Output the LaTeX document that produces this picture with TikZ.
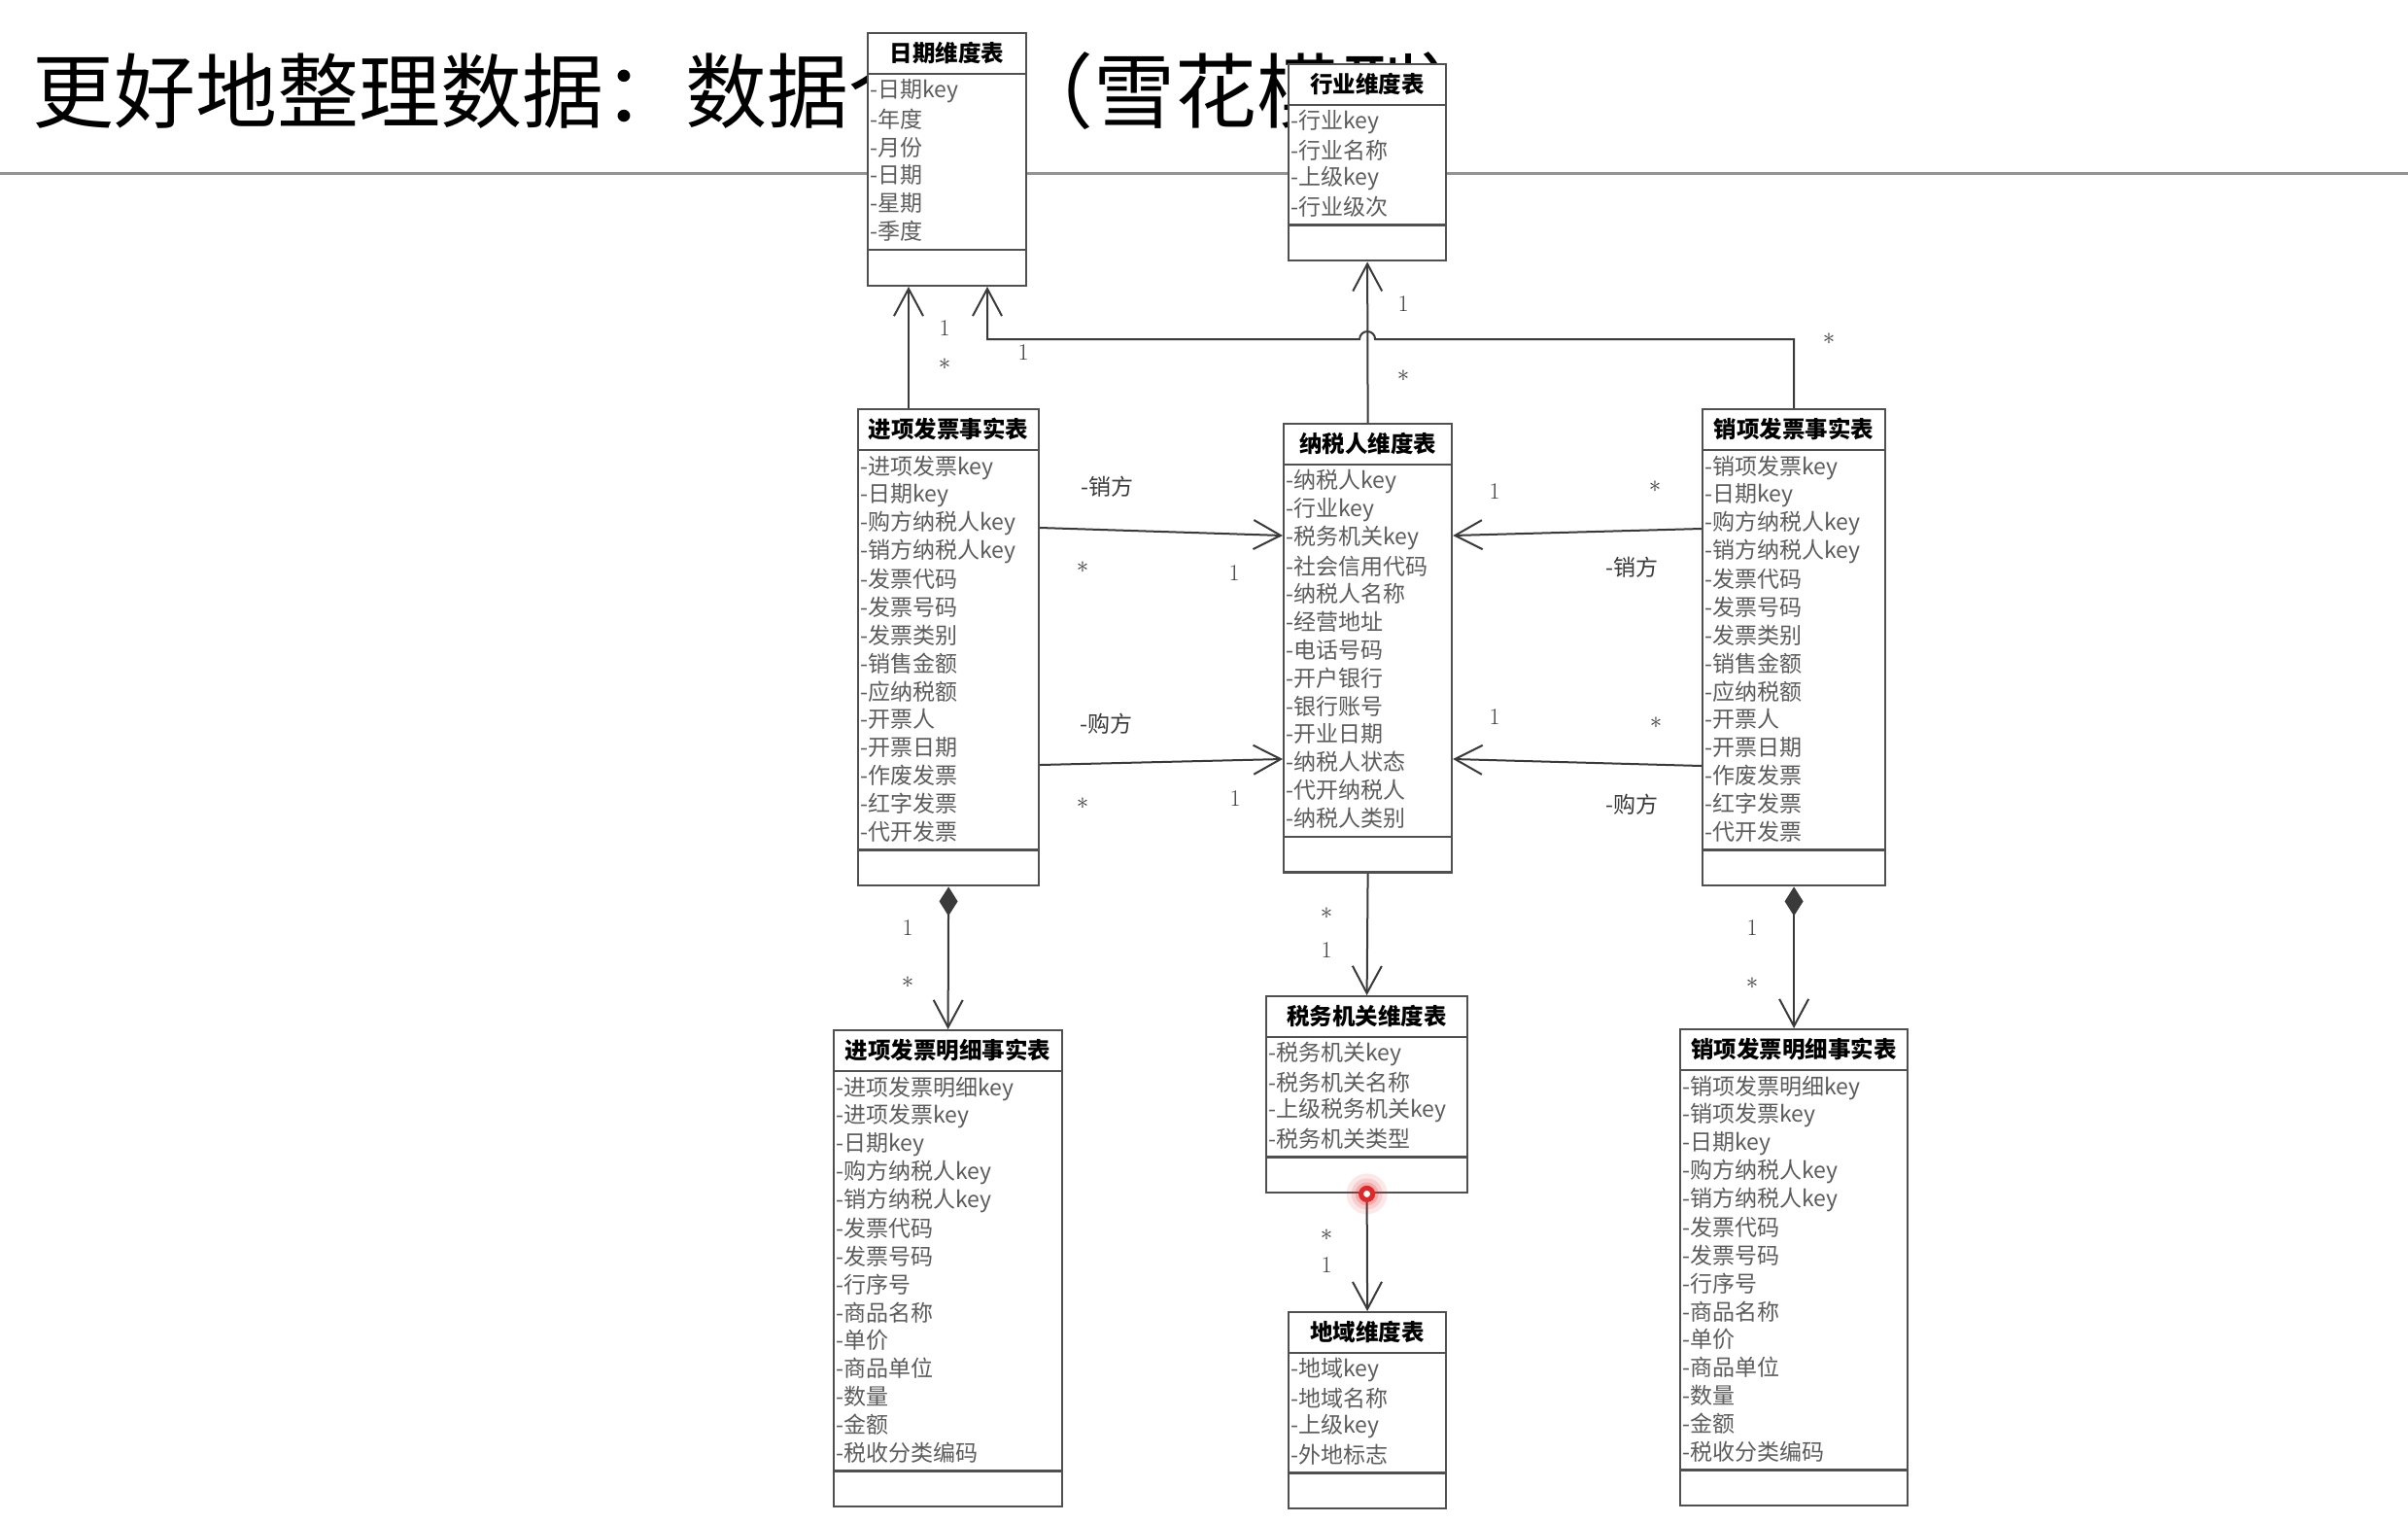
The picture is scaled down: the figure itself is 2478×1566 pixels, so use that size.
\documentclass[tikz,border=0pt]{standalone}
\usepackage{fontspec}
\usepackage{tikz}
\usetikzlibrary{calc,arrows.meta}
\newfontfamily\cjk{Noto Sans CJK SC}
\definecolor{boxgray}{HTML}{505050}
\definecolor{rowgray}{HTML}{5C5C5C}
\definecolor{linkgray}{HTML}{3A3A3A}
\definecolor{pointred}{HTML}{E02828}
\tikzset{
	tabbox/.style={draw=boxgray, line width=2.2pt, fill=white, inner sep=0},
	tabline/.style={draw=boxgray, line width=2.2pt},
	tabhead/.style={inner sep=0, font=\cjk\bfseries\fontsize{23.5}{23.5}\selectfont},
	tabrow/.style={anchor=west, inner sep=0, text=rowgray, font=\cjk\fontsize{23}{23}\selectfont},
	dep/.style={draw=linkgray, line width=2pt, -{Straight Barb[length=28pt,width=30pt]}},
	comp/.style={draw=linkgray, line width=2pt, {Diamond[length=30pt,width=19pt]}-{Straight Barb[length=28pt,width=30pt]}},
	card/.style={inner sep=0, text=linkgray, font=\fontsize{24}{24}\selectfont},
	role/.style={inner sep=0, text=linkgray, font=\cjk\fontsize{23}{23}\selectfont}
}
% name, left, top, width, number of rows, title, rows
\newcommand{\tabl}[7]{
	\node[tabbox, anchor=north west, minimum width=#4pt,
		minimum height={(87+#5*28.8)*1pt}] (#1) at (#2,#3) {};
	\draw[tabline] ($(#1.north west)+(0,43)$) -- ($(#1.north east)+(0,43)$);
	\draw[tabline] ($(#1.south west)+(0,-38)$) -- ($(#1.south east)+(0,-38)$);
	\node[tabhead] (#1-t) at ($(#1.north)+(0,21.5)$) {#6};
	\foreach \a [count=\i] in {#7}
		\node[tabrow] (#1-\i) at ($(#1.north west)+(3,{61+(\i-1)*28.8})$) {-\a};
}
\newcommand{\card}[3]{\node[card] (#1) at (#2) {#3}}
\newcommand{\role}[3]{\node[role] (#1) at (#2) {#3}}

\begin{document}
\begin{tikzpicture}[x=1pt, y=-1pt]
	\fill[white] (0,0) rectangle (2478,1566);
	\useasboundingbox (0,0) rectangle (2478,1566);
%Title
	\node[anchor=base west, inner sep=0, font=\cjk\fontsize{84}{84}\selectfont] (title)
		at (33,125) {更好地整理数据：数据仓库（雪花模型）};
	\draw[gray!85, line width=3pt] (0,178) -- (2478,178);
%Dimension tables
	\tabl{date}{892}{33}{163}{6}{日期维度表}{日期key,年度,月份,日期,星期,季度};
	\tabl{ind}{1325}{65}{162}{4}{行业维度表}{行业key,行业名称,上级key,行业级次};
	\tabl{tp}{1320}{435}{173}{13}{纳税人维度表}{纳税人key,行业key,税务机关key,社会信用代码,纳税人名称,经营地址,电话号码,开户银行,银行账号,开业日期,纳税人状态,代开纳税人,纳税人类别};
	\tabl{tax}{1302}{1024}{207}{4}{税务机关维度表}{税务机关key,税务机关名称,上级税务机关key,税务机关类型};
	\tabl{reg}{1325}{1349}{162}{4}{地域维度表}{地域key,地域名称,上级key,外地标志};
%Fact tables
	\tabl{ifact}{882}{420}{186}{14}{进项发票事实表}{进项发票key,日期key,购方纳税人key,销方纳税人key,发票代码,发票号码,发票类别,销售金额,应纳税额,开票人,开票日期,作废发票,红字发票,代开发票};
	\tabl{ofact}{1751}{420}{188}{14}{销项发票事实表}{销项发票key,日期key,购方纳税人key,销方纳税人key,发票代码,发票号码,发票类别,销售金额,应纳税额,开票人,开票日期,作废发票,红字发票,代开发票};
	\tabl{idet}{857}{1059}{235}{14}{进项发票明细事实表}{进项发票明细key,进项发票key,日期key,购方纳税人key,销方纳税人key,发票代码,发票号码,行序号,商品名称,单价,商品单位,数量,金额,税收分类编码};
	\tabl{odet}{1728}{1058}{234}{14}{销项发票明细事实表}{销项发票明细key,销项发票key,日期key,购方纳税人key,销方纳税人key,发票代码,发票号码,行序号,商品名称,单价,商品单位,数量,金额,税收分类编码};
%Links to the date table
	\coordinate (dA) at ($(date.south west)+(43,0)$);
	\coordinate (dB) at ($(date.south west)+(124,0)$);
	\coordinate (hop) at (ind.south |- 0,349);
	\draw[dep] (ifact.north -| dA) -- (dA);
	\draw[dep] (ofact.north) -- (ofact.north |- hop) -- ($(hop)+(8,0)$)
		arc[start angle=0, end angle=-180, radius=8] -- (dB |- hop) -- (dB);
	\card{c1}{972,338}{1};
	\card{c2}{972,375}{$*$};
	\card{c3}{1053,363}{1};
	\card{c4}{1882,349}{$*$};
%Taxpayer links
	\draw[dep] (tp.north) -- (ind.south);
	\card{c5}{1444,313}{1};
	\card{c6}{1444,387}{$*$};
	\draw[dep] ($(ifact.north east)+(0,123)$) -- ($(tp.north west)+(0,116)$);
	\role{r1}{1139,501}{-销方};
	\card{c7}{1114,584}{$*$};
	\card{c8}{1270,590}{1};
	\draw[dep] ($(ifact.north east)+(0,367)$) -- ($(tp.north west)+(0,346)$);
	\role{r2}{1138,745}{-购方};
	\card{c9}{1114,827}{$*$};
	\card{c10}{1271,822}{1};
	\draw[dep] ($(ofact.north west)+(0,124)$) -- ($(tp.north east)+(0,116)$);
	\card{c11}{1538,506}{1};
	\card{c12}{1703,501}{$*$};
	\role{r3}{1679,584}{-销方};
	\draw[dep] ($(ofact.north west)+(0,368)$) -- ($(tp.north east)+(0,346)$);
	\card{c13}{1538,738}{1};
	\card{c14}{1704,744}{$*$};
	\role{r4}{1679,828}{-购方};
%Details
	\draw[comp] (ifact.south) -- (idet.north);
	\card{c15}{934,955}{1};
	\card{c16}{934,1011}{$*$};
	\draw[comp] (ofact.south) -- (odet.north);
	\card{c17}{1803,955}{1};
	\card{c18}{1803,1012}{$*$};
%Snowflake branch
	\draw[dep] (tp.south) -- (tax.north);
	\card{c19}{1365,940}{$*$};
	\card{c20}{1365,978}{1};
	\draw[dep] (tax.south) -- (reg.north);
	\card{c21}{1365,1271}{$*$};
	\card{c22}{1365,1302}{1};
%Pointer
	\foreach \r/\o in {21/0.10,16/0.14,12/0.2}
		\fill[pointred, opacity=\o] (tax.south) circle (\r);
	\draw[pointred, line width=5pt, fill=white] (tax.south) circle (6);
\end{tikzpicture}
\end{document}
